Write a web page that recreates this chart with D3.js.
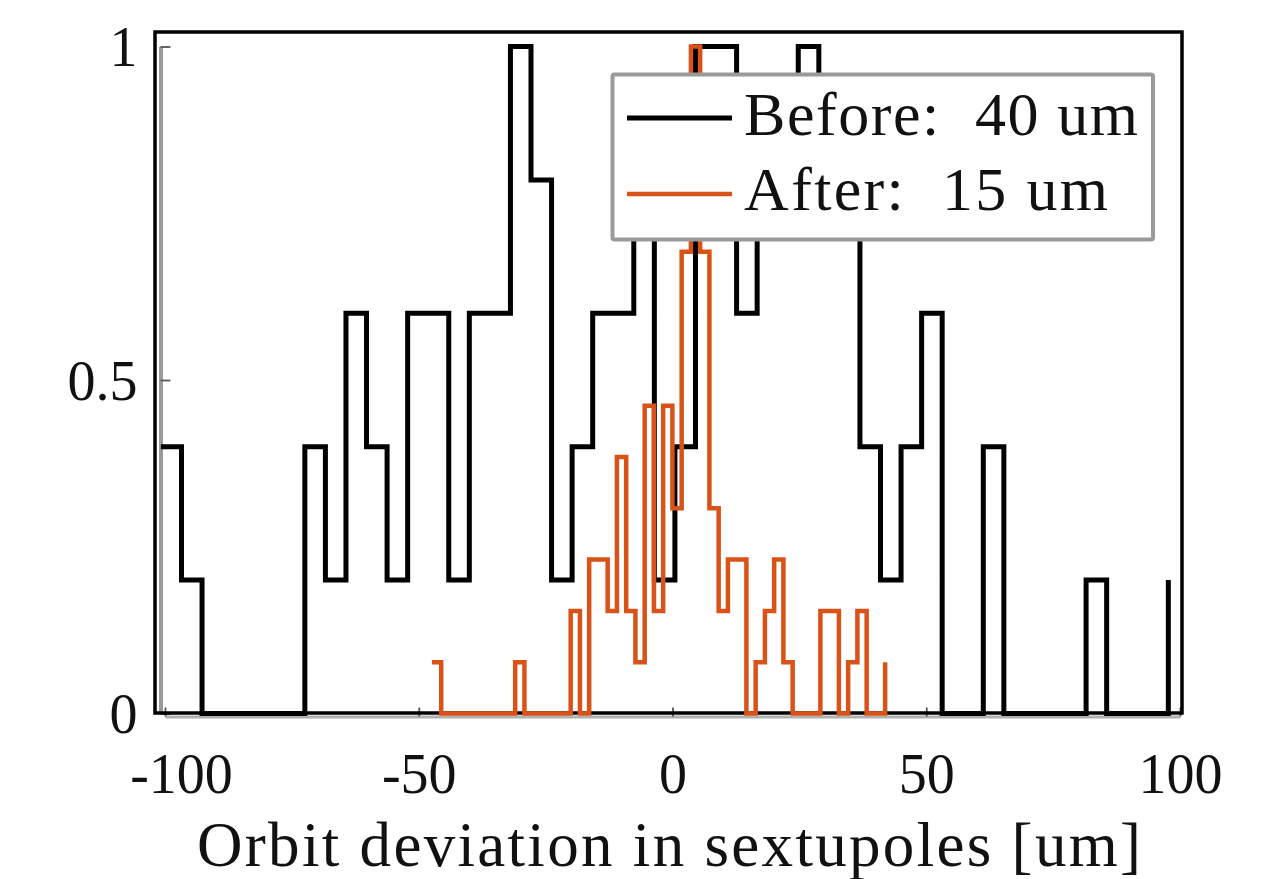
<!DOCTYPE html>
<html><head><meta charset="utf-8">
<script src="https://cdn.jsdelivr.net/npm/d3@7"></script>
<style>html,body{margin:0;padding:0;background:#fff;} svg{display:block;}</style>
</head><body>
<svg id="chart" width="1287" height="879"></svg>
<script>
// ---- data (histogram counts per bin, 50 bins each) ----
const beforeCounts = [2,1,0,0,0,0,0,2,1,3,2,1,3,3,1,3,3,5,4,1,2,3,3,4,1,2,5,5,3,4,4,5,4,4,2,1,2,3,0,0,2,0,0,0,0,1,0,0,0,1];
const afterCounts  = [1,0,0,0,0,0,0,0,0,1,0,0,0,0,0,2,0,3,3,2,5,2,1,6,2,6,4,9,13,9,4,2,3,3,0,1,2,3,1,0,0,0,2,2,0,1,2,0,0,1];
const beforeCentreRange = [-100.8, 97.7];   // first / last bin centre [um]
const afterCentreRange  = [-47.4, 41.9];
const seriesNames = ["Before:  40 um", "After:  15 um"];
const seriesColors = ["#000000", "#D95319"];
const xTicks = [-100, -50, 0, 50, 100];
const yTicks = [0, 0.5, 1];
const yTickLabels = ["0", "0.5", "1"];
const xLabel = "Orbit deviation in sextupoles [um]";

// ---- layout ----
const svg = d3.select("#chart");
const frame = {left: 155, right: 1182, top: 32, bottom: 713};
const x = d3.scaleLinear().domain([-100, 100]).range([165, 1180]);
const y = d3.scaleLinear().domain([0, 1]).range([713.5, 46.5]);
const FONT = "'Liberation Serif', 'Times New Roman', serif";

svg.append("rect").attr("width", 1287).attr("height", 879).attr("fill", "#fff");

// grey inner axes
const yAxis = d3.axisLeft(y).tickValues(yTicks).tickFormat((d, i) => yTickLabels[i])
  .tickSizeInner(-10).tickSizeOuter(0).tickPadding(23);
const gy = svg.append("g").attr("transform", "translate(160.5,0)").call(yAxis);
gy.select(".domain").attr("stroke", "#9a9a9a").attr("stroke-width", 4);
gy.selectAll(".tick line").attr("stroke", "#555").attr("stroke-width", 1.8);
gy.selectAll(".tick text").attr("font-family", FONT).attr("font-size", 56).attr("fill", "#111")
  .attr("dy", "0.34em");

const xAxis = d3.axisBottom(x).tickValues(xTicks).tickFormat(d3.format("d"))
  .tickSizeInner(-9).tickSizeOuter(0).tickPadding(37);
const gx = svg.append("g").attr("transform", "translate(0,716.5)").call(xAxis);
gx.select(".domain").attr("stroke", "#b0b0b0").attr("stroke-width", 3);
gx.selectAll(".tick line").attr("stroke", "#555").attr("stroke-width", 1.8);
gx.selectAll(".tick text").attr("font-family", FONT).attr("font-size", 56).attr("fill", "#111")
  .attr("dx", d => d === xTicks[0] ? 16 : 0)
  .text(d => d < 0 ? "-" + Math.abs(d) : String(d));

// frame
svg.append("rect").attr("x", frame.left).attr("y", frame.top)
  .attr("width", frame.right - frame.left).attr("height", frame.bottom - frame.top)
  .attr("fill", "none").attr("stroke", "#000").attr("stroke-width", 3.5);

// histograms as stairs
function stairs(counts, range) {
  const mx = d3.max(counts);
  const step = (range[1] - range[0]) / (counts.length - 1);
  return counts.map((c, i) => ({c: range[0] + i * step, v: c / mx}));
}
const series = [
  {data: stairs(beforeCounts, beforeCentreRange), color: seriesColors[0], w: 5},
  {data: stairs(afterCounts, afterCentreRange), color: seriesColors[1], w: 4.5}
];
const line = d3.line().x(d => x(d.c)).y(d => y(d.v)).curve(d3.curveStepAfter);
series.forEach(s => {
  svg.append("path").attr("d", line(s.data)).attr("fill", "none")
    .attr("stroke", s.color).attr("stroke-width", s.w).attr("stroke-linejoin", "miter");
});

// legend
const lg = svg.append("g");
lg.append("rect").attr("x", 612.5).attr("y", 74.5).attr("width", 540.5).attr("height", 165)
  .attr("fill", "#fff").attr("stroke", "#9a9a9a").attr("stroke-width", 4).attr("rx", 2);
const legendY = [118, 194];
const legendBase = [135, 210];
const legendW = [394, 364];
seriesNames.forEach((n, i) => {
  lg.append("line").attr("x1", 627).attr("x2", 732).attr("y1", legendY[i]).attr("y2", legendY[i])
    .attr("stroke", seriesColors[i]).attr("stroke-width", i === 0 ? 5 : 4.5);
  lg.append("text").attr("x", 744).attr("y", legendBase[i]).attr("font-family", FONT)
    .attr("font-size", 62).attr("fill", "#111").style("white-space", "pre")
    .attr("textLength", legendW[i]).attr("lengthAdjust", "spacing").text(n);
});

// x label
svg.append("text").attr("x", 669).attr("y", 866).attr("text-anchor", "middle")
  .attr("font-family", FONT).attr("font-size", 63).attr("fill", "#111")
  .attr("textLength", 944).attr("lengthAdjust", "spacing").text(xLabel);
</script>
</body></html>
